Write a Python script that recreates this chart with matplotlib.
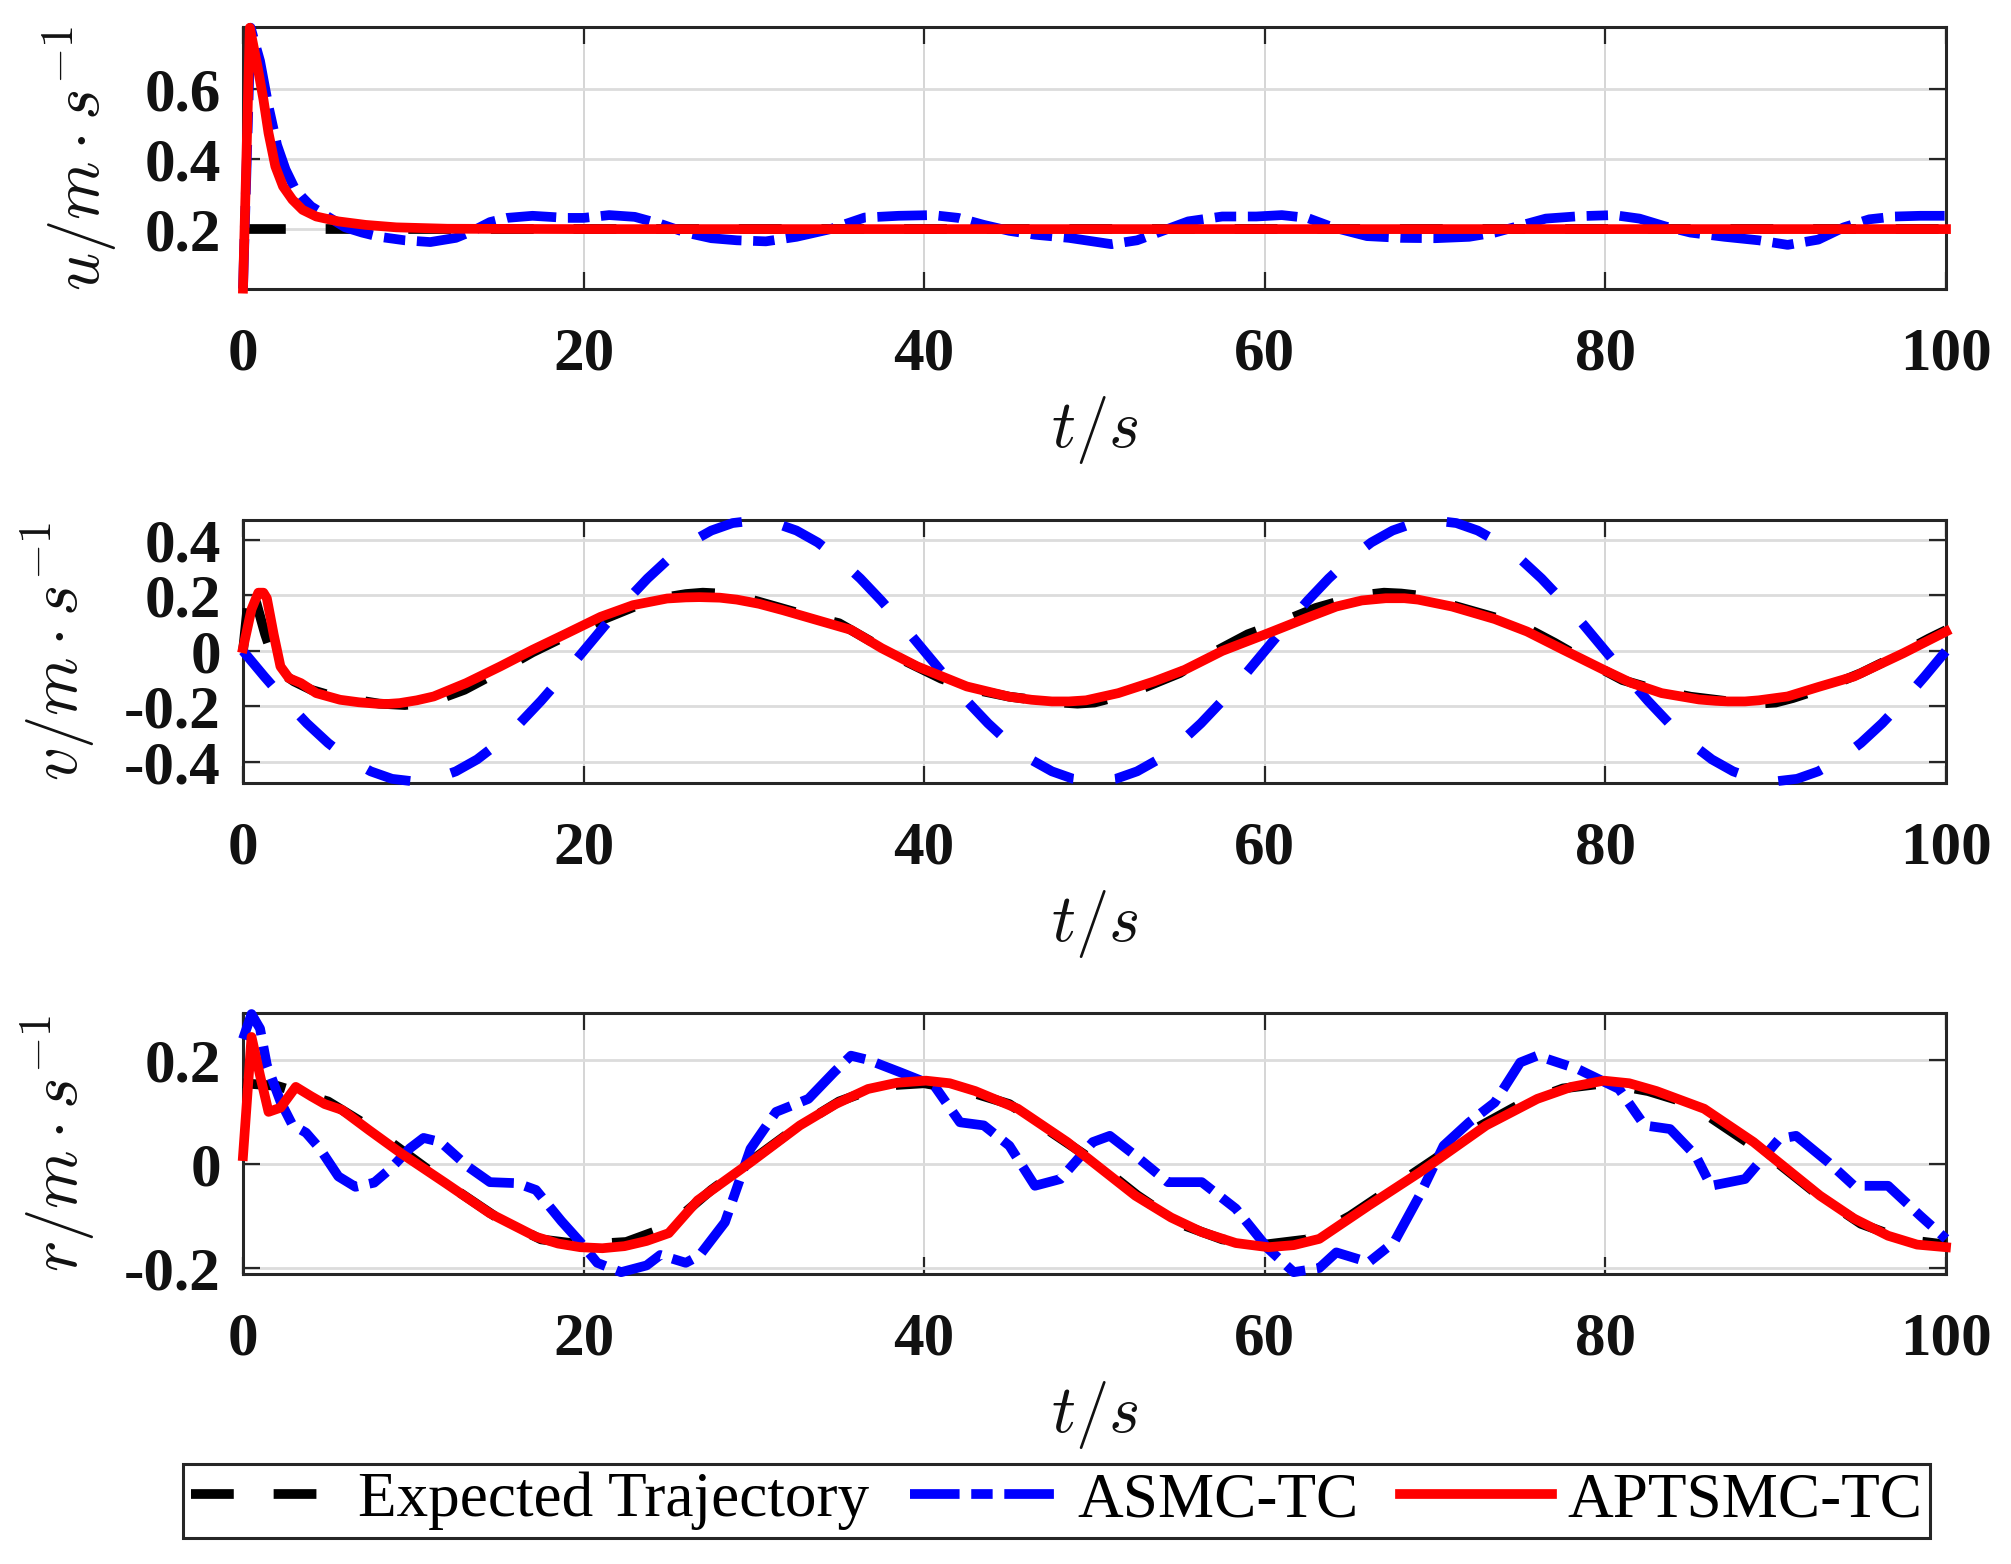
import matplotlib
matplotlib.use("Agg")
import matplotlib.pyplot as plt

plt.rcParams['font.family'] = ['Liberation Serif', 'DejaVu Serif']
plt.rcParams['mathtext.fontset'] = 'cm'

# ---------------- data ----------------
series_names = ["Expected Trajectory", "ASMC-TC", "APTSMC-TC"]
x_ticks = [0, 20, 40, 60, 80, 100]
x_tick_labels = ["0", "20", "40", "60", "80", "100"]

# panel 1 : u
u_ref_t = [0, 100]
u_ref = [0.2, 0.2]
u_asmc_t = [0, 0.45, 1.0, 1.5, 2.0, 2.5, 3.0, 3.5, 4.0, 5.0, 6.0, 7.0, 8.0, 9.5, 11.0,
            12.5, 13.5, 14.5, 15.5, 17.0, 19.0, 20.0, 21.5, 23.0, 24.5, 26.0, 27.5,
            29.0, 30.7, 32.5, 34.5, 36.5, 38.5, 40.5, 42.0, 43.5, 45.0, 46.5, 48.5,
            51.0, 52.5, 54.0, 55.5, 57.5, 59.5, 61.0, 62.5, 64.0, 66.0, 68.0, 70.0,
            72.0, 73.5, 75.0, 76.5, 78.5, 80.5, 82.0, 83.5, 85.0, 87.0, 89.0, 90.7,
            92.5, 94.0, 95.5, 97.0, 98.5, 100.0]
u_asmc = [0.03, 0.775, 0.68, 0.55, 0.44, 0.37, 0.32, 0.29, 0.265, 0.235, 0.205, 0.19,
          0.178, 0.168, 0.163, 0.175, 0.195, 0.22, 0.232, 0.238, 0.232, 0.232, 0.24,
          0.235, 0.215, 0.19, 0.174, 0.168, 0.165, 0.178, 0.2, 0.233, 0.238, 0.24,
          0.232, 0.212, 0.195, 0.184, 0.175, 0.157, 0.168, 0.195, 0.222, 0.236, 0.236,
          0.24, 0.232, 0.205, 0.18, 0.175, 0.174, 0.178, 0.19, 0.21, 0.23, 0.237, 0.24,
          0.23, 0.208, 0.19, 0.178, 0.168, 0.155, 0.17, 0.205, 0.228, 0.236, 0.238, 0.238]
u_aptsmc_t = [0, 0.4, 0.85, 1.2, 1.5, 1.9, 2.35, 2.9, 3.5, 4.3, 5.6, 7.2, 9.0, 12.0,
              20.0, 100.0]
u_aptsmc = [0.03, 0.775, 0.665, 0.57, 0.474, 0.379, 0.322, 0.284, 0.255, 0.236, 0.222,
            0.212, 0.205, 0.201, 0.2, 0.2]

# panel 2 : v
v_ref_t = [0, 0.4, 0.8, 1.3, 1.8, 2.4, 3, 4, 5, 6.5, 8, 9.5, 11, 13, 15, 17, 19, 21, 23,
           25, 26, 27, 28, 29, 31, 33, 35, 37, 39, 41, 43, 45, 47, 48, 49, 50, 51, 53,
           55, 57, 59, 61, 63, 65, 66, 67, 68, 69, 71, 73, 75, 77, 79, 81, 83, 85, 87,
           88, 89, 90, 91, 93, 95, 97, 99, 100]
v_ref = [0.0, 0.235, 0.17, 0.06, -0.03, -0.085, -0.11, -0.14, -0.158, -0.175, -0.19,
         -0.195, -0.185, -0.14, -0.075, -0.005, 0.055, 0.11, 0.16, 0.195, 0.205, 0.21,
         0.207, 0.2, 0.165, 0.13, 0.1, 0.03, -0.04, -0.1, -0.14, -0.165, -0.18, -0.186,
         -0.19, -0.186, -0.17, -0.13, -0.08, -0.005, 0.06, 0.105, 0.155, 0.19, 0.203,
         0.21, 0.207, 0.2, 0.165, 0.13, 0.095, 0.03, -0.04, -0.105, -0.14, -0.165,
         -0.18, -0.186, -0.19, -0.186, -0.17, -0.13, -0.08, -0.02, 0.045, 0.075]
v_asmc_t = [0, 1.25, 2.5, 3.75, 5, 6.25, 7.5, 8.75, 10, 11.25, 12.5, 13.75, 15, 16.25,
            17.5, 18.75, 20, 21.25, 22.5, 23.75, 25, 26.25, 27.5, 28.75, 30, 31.25, 32.5,
            33.75, 35, 36.25, 37.5, 38.75, 40, 41.25, 42.5, 43.75, 45, 46.25, 47.5,
            48.75, 50, 51.25, 52.5, 53.75, 55, 56.25, 57.5, 58.75, 60, 61.25, 62.5,
            63.75, 65, 66.25, 67.5, 68.75, 70, 71.25, 72.5, 73.75, 75, 76.25, 77.5,
            78.75, 80, 81.25, 82.5, 83.75, 85, 86.25, 87.5, 88.75, 90, 91.25, 92.5,
            93.75, 95, 96.25, 97.5, 98.75, 100]
v_asmc = [0.0, -0.092, -0.18, -0.261, -0.332, -0.391, -0.434, -0.461, -0.47, -0.461,
          -0.434, -0.391, -0.332, -0.261, -0.18, -0.092, 0.0, 0.092, 0.18, 0.261, 0.332,
          0.391, 0.434, 0.461, 0.47, 0.461, 0.434, 0.391, 0.332, 0.261, 0.18, 0.092, 0.0,
          -0.092, -0.18, -0.261, -0.332, -0.391, -0.434, -0.461, -0.47, -0.461, -0.434,
          -0.391, -0.332, -0.261, -0.18, -0.092, 0.0, 0.092, 0.18, 0.261, 0.332, 0.391,
          0.434, 0.461, 0.47, 0.461, 0.434, 0.391, 0.332, 0.261, 0.18, 0.092, 0.0,
          -0.092, -0.18, -0.261, -0.332, -0.391, -0.434, -0.461, -0.47, -0.461, -0.434,
          -0.391, -0.332, -0.261, -0.18, -0.092, 0.0]
v_aptsmc_t = [0, 0.5, 0.9, 1.2, 1.4, 1.8, 2.2, 2.7, 3.4, 4.3, 5.7, 6.8, 7.8, 8.5, 9.2,
              10.2, 11.2, 13.1, 15.1, 17.0, 19.0, 21.0, 22.9, 24.9, 26.0, 26.8, 28.0,
              29.0, 30.3, 31.7, 33.5, 35.7, 37.5, 39.6, 42.5, 45.0, 46.3, 47.5, 48.5,
              49.5, 51.4, 53.5, 55.3, 57.5, 60.2, 62.5, 64.2, 65.7, 67.1, 68.2, 69.0,
              71.0, 73.5, 75.4, 77.5, 79.9, 81.5, 83.3, 85.5, 86.5, 87.2, 88.2, 89.0,
              90.7, 92.5, 94.6, 97.5, 100.0]
v_aptsmc = [0.01, 0.15, 0.21, 0.21, 0.19, 0.06, -0.056, -0.098, -0.116, -0.152, -0.176,
            -0.185, -0.19, -0.191, -0.188, -0.178, -0.164, -0.116, -0.056, 0.004, 0.063,
            0.123, 0.165, 0.189, 0.193, 0.194, 0.192, 0.185, 0.17, 0.147, 0.115, 0.076,
            0.01, -0.056, -0.128, -0.165, -0.176, -0.182, -0.182, -0.178, -0.152, -0.11,
            -0.068, 0.0, 0.064, 0.12, 0.16, 0.182, 0.19, 0.19, 0.185, 0.16, 0.115, 0.07,
            0.005, -0.068, -0.115, -0.152, -0.175, -0.18, -0.182, -0.182, -0.178, -0.164,
            -0.13, -0.092, -0.008, 0.07]

# panel 3 : r
r_ref_t = [0, 2, 3, 5, 7.5, 10, 12.5, 15, 17.5, 20, 22.5, 25, 27.5, 30, 32.5, 35, 37.5,
           40, 42.5, 45, 47.5, 50, 52.5, 55, 57.5, 60, 62.5, 65, 67.5, 70, 72.5, 75,
           77.5, 80, 82.5, 85, 87.5, 90, 92.5, 95, 97.5, 100]
r_ref = [0.155, 0.15, 0.14, 0.12, 0.07, 0.01, -0.05, -0.105, -0.145, -0.155, -0.15,
         -0.12, -0.05, 0.01, 0.07, 0.12, 0.15, 0.155, 0.14, 0.115, 0.06, 0.005, -0.06,
         -0.115, -0.145, -0.155, -0.145, -0.1, -0.045, 0.01, 0.07, 0.115, 0.145, 0.155,
         0.14, 0.115, 0.06, 0.005, -0.06, -0.115, -0.145, -0.155]
r_asmc_t = [0, 0.5, 1.0, 1.4, 2.2, 2.9, 3.7, 4.5, 5.6, 6.6, 7.7, 8.7, 9.8, 10.6, 11.6,
            13.2, 14.5, 16.1, 17.2, 18.7, 19.8, 20.8, 22.2, 23.7, 24.5, 26.0, 26.8,
            28.3, 29.8, 31.3, 33.2, 34.7, 35.7, 36.7, 38.6, 40.6, 42.1, 43.5, 45.0,
            46.5, 48.0, 49.9, 50.9, 52.4, 54.3, 56.3, 58.3, 60.2, 61.7, 63.2, 64.2,
            66.1, 67.6, 69.1, 70.5, 72.0, 73.5, 75.0, 76.0, 78.4, 80.8, 82.3, 83.8,
            85.3, 86.2, 88.2, 90.2, 91.2, 93.1, 94.6, 96.6, 98.5, 100.0]
r_asmc = [0.24, 0.288, 0.26, 0.19, 0.12, 0.075, 0.06, 0.03, -0.024, -0.044, -0.036,
          -0.008, 0.03, 0.05, 0.042, -0.005, -0.035, -0.037, -0.05, -0.11, -0.15, -0.19,
          -0.208, -0.195, -0.175, -0.19, -0.176, -0.112, 0.029, 0.1, 0.125, 0.176, 0.208,
          0.2, 0.176, 0.15, 0.08, 0.074, 0.035, -0.042, -0.029, 0.042, 0.054, 0.016,
          -0.035, -0.035, -0.086, -0.163, -0.208, -0.2, -0.17, -0.189, -0.15, -0.06,
          0.035, 0.08, 0.118, 0.195, 0.208, 0.182, 0.144, 0.074, 0.067, 0.016, -0.042,
          -0.029, 0.048, 0.054, 0.003, -0.042, -0.042, -0.1, -0.144]
r_aptsmc_t = [0, 0.5, 1.0, 1.5, 2.2, 3.1, 4.0, 4.8, 5.8, 7.4, 9.3, 11.9, 14.5, 17.2,
              18.5, 19.8, 21.1, 22.4, 23.7, 25.0, 26.7, 29.8, 32.7, 34.8, 36.7, 38.4,
              40.1, 41.5, 43.0, 45.5, 48.4, 52.4, 54.5, 56.3, 58.3, 60.2, 61.7, 63.2,
              66.1, 69.1, 73.0, 76.0, 78.0, 79.9, 81.4, 83.0, 85.8, 88.7, 92.6, 94.6,
              96.6, 98.3, 100.0]
r_aptsmc = [0.015, 0.244, 0.17, 0.1, 0.108, 0.148, 0.13, 0.115, 0.104, 0.065, 0.02,
            -0.037, -0.095, -0.14, -0.153, -0.16, -0.162, -0.158, -0.148, -0.133, -0.07,
            0.003, 0.074, 0.115, 0.144, 0.156, 0.16, 0.155, 0.14, 0.106, 0.042, -0.061,
            -0.103, -0.131, -0.152, -0.16, -0.156, -0.144, -0.08, -0.016, 0.074, 0.125,
            0.148, 0.16, 0.155, 0.14, 0.106, 0.042, -0.061, -0.105, -0.138, -0.155, -0.16]

panels = [
    dict(ref=(u_ref_t, u_ref), asmc=(u_asmc_t, u_asmc), apt=(u_aptsmc_t, u_aptsmc),
         ylim=(0.029, 0.777), yticks=[0.2, 0.4, 0.6], yticklabels=["0.2", "0.4", "0.6"],
         ylabel=r"$u/m\cdot s^{-1}$", blue_dash=(5.1, 1.2, 2.2, 1.2), labx=-0.073),
    dict(ref=(v_ref_t, v_ref), asmc=(v_asmc_t, v_asmc), apt=(v_aptsmc_t, v_aptsmc),
         ylim=(-0.476, 0.472), yticks=[-0.4, -0.2, 0, 0.2, 0.4],
         yticklabels=["-0.4", "-0.2", "0", "0.2", "0.4"],
         ylabel=r"$v/m\cdot s^{-1}$", blue_dash=(4.6, 4.3), labx=-0.086),
    dict(ref=(r_ref_t, r_ref), asmc=(r_asmc_t, r_asmc), apt=(r_aptsmc_t, r_aptsmc),
         ylim=(-0.2115, 0.29), yticks=[-0.2, 0, 0.2], yticklabels=["-0.2", "0", "0.2"],
         ylabel=r"$r/m\cdot s^{-1}$", blue_dash=(5.1, 1.2, 2.2, 1.2), labx=-0.086),
]

# ---------------- figure ----------------
W, H = 2011, 1564
fig = plt.figure(figsize=(W / 100, H / 100), dpi=100)
positions = [
    [243 / W, 1 - 289 / H, (1946 - 243) / W, (289 - 27) / H],
    [243 / W, 1 - 783 / H, (1946 - 243) / W, (783 - 520) / H],
    [243 / W, 1 - 1274 / H, (1946 - 243) / W, (1274 - 1013) / H],
]
axc = "#262626"
LW = 7.0
handles = None
for pos, p in zip(positions, panels):
    ax = fig.add_axes(pos)
    l1, = ax.plot(*p["ref"], color="black", lw=LW, dashes=(4.4, 4.1),
                  solid_capstyle="butt", dash_capstyle="butt", clip_on=False, zorder=3)
    l2, = ax.plot(*p["asmc"], color="#0000ff", lw=LW, dashes=p["blue_dash"],
                  dash_capstyle="butt", dash_joinstyle="round", clip_on=False, zorder=4)
    l3, = ax.plot(*p["apt"], color="#ff0000", lw=LW, solid_joinstyle="round",
                  clip_on=False, zorder=5)
    if handles is None:
        handles = [l1, l2, l3]
    ax.set_xlim(0, 100)
    ax.set_ylim(*p["ylim"])
    ax.set_xticks(x_ticks)
    ax.set_xticklabels(x_tick_labels)
    ax.set_yticks(p["yticks"])
    ax.set_yticklabels(p["yticklabels"])
    ax.grid(True, axis="y", color="#dcdcdc", lw=2.0, zorder=0)
    ax.grid(True, axis="x", color="#d2d2d2", lw=1.3, zorder=0)
    ax.set_axisbelow(True)
    for s in ax.spines.values():
        s.set_color(axc)
        s.set_linewidth(2.2)
    ax.tick_params(axis="both", which="major", direction="in", length=12, width=1.6,
                   color=axc, top=True, right=True, labelcolor="#111111",
                   labelsize=44)
    ax.tick_params(axis="x", pad=27)
    ax.tick_params(axis="y", pad=16)
    for lab in ax.get_xticklabels() + ax.get_yticklabels():
        lab.set_fontweight("bold")
    ax.set_xlabel(r"$t/s$", fontsize=48, labelpad=8, color="#111111")
    ax.set_ylabel(p["ylabel"], fontsize=48, color="#111111")
    ax.yaxis.set_label_coords(p["labx"], 0.5)

leg = fig.legend(handles, series_names, ncol=3, mode="expand", loc="center",
                 bbox_to_anchor=(183 / W, 1 - 1545 / H, (1930 - 183) / W, 88 / H),
                 bbox_transform=fig.transFigure, fontsize=45.5, handlelength=2.4,
                 handletextpad=0.25, borderpad=0.12, borderaxespad=0.0,
                 fancybox=False, framealpha=1.0, edgecolor=axc)
leg.get_frame().set_linewidth(2.2)

fig.savefig("out.png", dpi=100)
